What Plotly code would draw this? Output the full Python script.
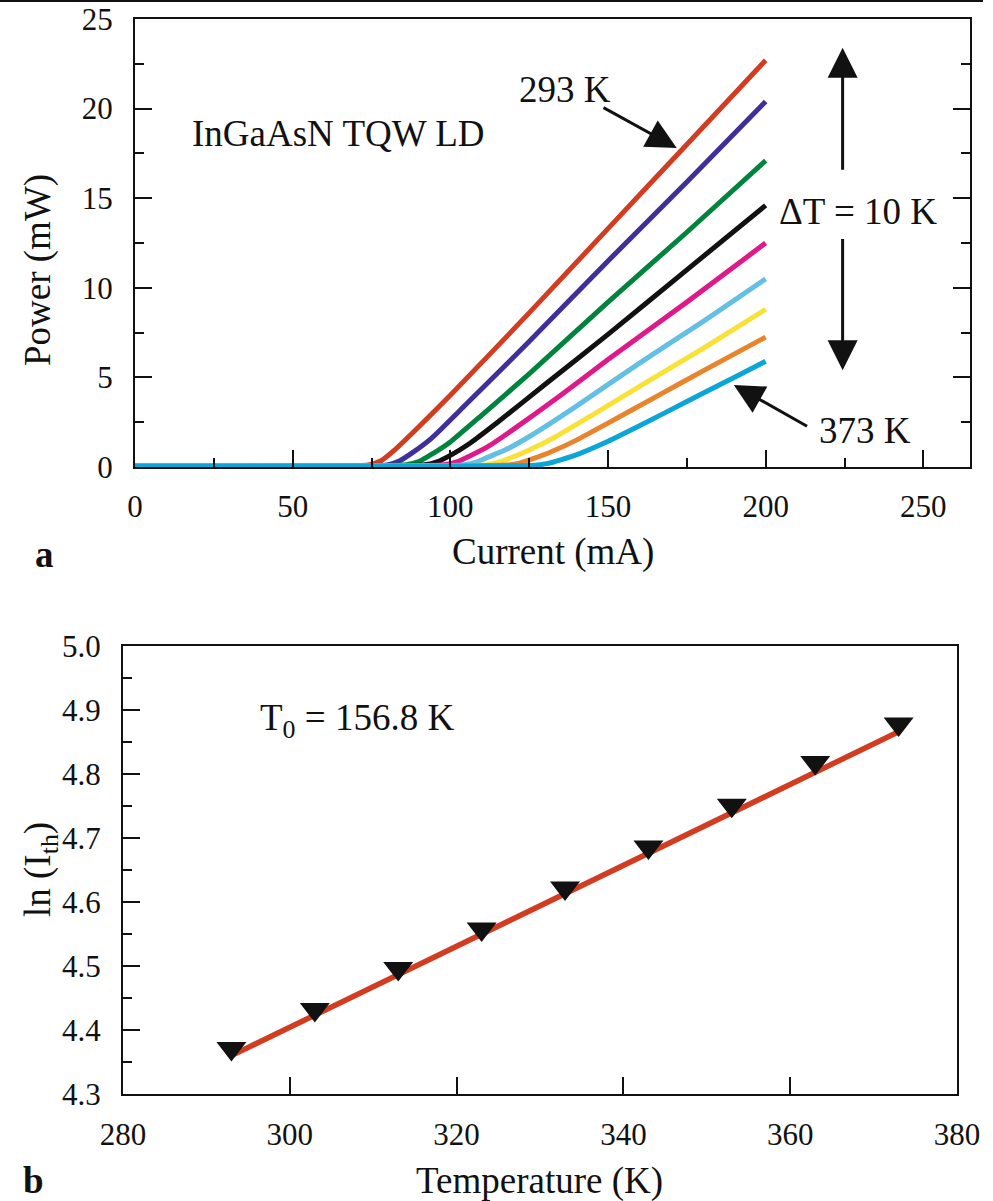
import plotly.graph_objects as go

# ---------------- data: panel a (L-I curves) ----------------
temps_a = ["293 K", "303 K", "313 K", "323 K", "333 K", "343 K", "353 K", "363 K", "373 K"]
colors_a = ["#D23C21", "#3E2F9B", "#00843D", "#111111", "#E0198A",
            "#63BFE3", "#F9E138", "#E8842C", "#0BA5D8"]

i_293 = [0, 60, 74, 78, 82, 88, 100, 125, 150, 175, 200]
p_293 = [0.05, 0.07, 0.12, 0.35, 0.9, 1.9, 4.0, 8.6, 13.3, 18.0, 22.7]
i_303 = [0, 60, 80, 84, 88, 94, 105, 125, 150, 175, 200]
p_303 = [0.05, 0.06, 0.12, 0.35, 0.8, 1.6, 3.5, 7.0, 11.5, 15.9, 20.4]
i_313 = [0, 70, 86, 90, 94, 100, 110, 125, 150, 175, 200]
p_313 = [0.05, 0.06, 0.12, 0.3, 0.7, 1.4, 2.9, 5.2, 9.2, 13.1, 17.1]
i_323 = [0, 80, 92, 96, 100, 106, 115, 130, 150, 175, 200]
p_323 = [0.05, 0.06, 0.12, 0.3, 0.65, 1.3, 2.5, 4.6, 7.4, 11.0, 14.6]
i_333 = [0, 85, 98, 102, 106, 112, 120, 135, 150, 175, 200]
p_333 = [0.05, 0.06, 0.12, 0.28, 0.6, 1.15, 2.1, 4.0, 6.0, 9.2, 12.5]
i_343 = [0, 90, 104, 108, 112, 118, 126, 140, 160, 180, 200]
p_343 = [0.05, 0.06, 0.11, 0.26, 0.55, 1.0, 1.8, 3.4, 5.8, 8.1, 10.5]
i_353 = [0, 95, 111, 115, 119, 125, 133, 145, 160, 180, 200]
p_353 = [0.05, 0.06, 0.11, 0.25, 0.5, 0.95, 1.65, 2.9, 4.5, 6.6, 8.8]
i_363 = [0, 100, 118, 122, 126, 132, 140, 150, 165, 180, 200]
p_363 = [0.05, 0.06, 0.11, 0.22, 0.45, 0.85, 1.5, 2.45, 3.9, 5.35, 7.25]
i_373 = [0, 110, 127, 131, 135, 141, 149, 160, 175, 190, 200]
p_373 = [0.04, 0.05, 0.1, 0.2, 0.4, 0.75, 1.35, 2.3, 3.65, 5.0, 5.9]

currents_a = [i_293, i_303, i_313, i_323, i_333, i_343, i_353, i_363, i_373]
powers_a = [p_293, p_303, p_313, p_323, p_333, p_343, p_353, p_363, p_373]

# ---------------- data: panel b (ln Ith vs T) ----------------
temps_b = [293, 303, 313, 323, 333, 343, 353, 363, 373]
ln_ith = [4.371, 4.432, 4.496, 4.558, 4.622, 4.686, 4.751, 4.818, 4.878]
fit_t = [293, 373]
fit_ln = [4.360, 4.866]

W, H = 993, 1201
FONT = "Liberation Serif"
INK = "#111111"


def px(x):
    return x / W


def py(y):
    return 1 - y / H


fig = go.Figure()

for t, c, xs, ys in zip(temps_a, colors_a, currents_a, powers_a):
    fig.add_trace(go.Scatter(x=xs, y=ys, mode="lines", name=t,
                             line=dict(color=c, width=5, shape="spline", smoothing=0.5),
                             xaxis="x", yaxis="y", showlegend=False))

fig.add_trace(go.Scatter(x=fit_t, y=fit_ln, mode="lines", name="fit",
                         line=dict(color="#D23C21", width=5.5),
                         xaxis="x2", yaxis="y2", showlegend=False))
fig.add_trace(go.Scatter(x=temps_b, y=ln_ith, mode="markers", name="ln(Ith)",
                         marker=dict(symbol="triangle-down", size=26, color=INK,
                                     line=dict(width=0)),
                         xaxis="x2", yaxis="y2", showlegend=False))

axis_common = dict(showgrid=False, zeroline=False, showline=True, linecolor=INK,
                   linewidth=2, ticks="inside", tickcolor=INK, tickwidth=2,
                   automargin=False,
                   tickfont=dict(family=FONT, size=31, color=INK))

fig.update_layout(
    width=W, height=H,
    margin=dict(l=0, r=0, t=0, b=0, pad=0, autoexpand=False),
    showlegend=False,
    paper_bgcolor="white", plot_bgcolor="white",
    font=dict(family=FONT, color=INK),
    xaxis=dict(axis_common, domain=[px(135), px(970)], range=[0, 264.8],
               dtick=50, tick0=0, ticklen=17, mirror=True, anchor="y",
               ticklabelstandoff=11,
               minor=dict(dtick=25, tick0=0, ticks="inside", ticklen=9,
                          tickwidth=2, tickcolor=INK)),
    yaxis=dict(axis_common, domain=[py(467), py(19)], range=[0, 25],
               dtick=5, tick0=0, ticklen=17, mirror="ticks", anchor="x",
               ticklabelstandoff=14,
               minor=dict(dtick=2.5, tick0=0, ticks="inside", ticklen=9,
                          tickwidth=2, tickcolor=INK)),
    xaxis2=dict(axis_common, domain=[px(123), px(957)], range=[280, 380],
                dtick=20, tick0=280, ticklen=17, mirror=True, anchor="y2",
                ticklabelstandoff=12),
    yaxis2=dict(axis_common, domain=[py(1094), py(646)], range=[4.3, 5.0],
                dtick=0.1, tick0=4.3, ticklen=17, mirror=True, anchor="x2",
                tickformat=".1f", ticklabelstandoff=14,
                minor=dict(dtick=0.05, tick0=4.3, ticks="inside", ticklen=9,
                           tickwidth=2, tickcolor=INK)),
)

ann = []


def text_paper(txt, x, y, size=37, xanchor="center", yanchor="middle", angle=0):
    ann.append(dict(text=txt, x=px(x), y=py(y), xref="paper", yref="paper",
                    xanchor=xanchor, yanchor=yanchor, showarrow=False, textangle=angle,
                    font=dict(family=FONT, size=size, color=INK)))


# axis titles and panel labels
text_paper("Current (mA)", 553, 552)
text_paper("Power (mW)", 38, 270, angle=-90)
text_paper("<b>a</b>", 44, 554)
text_paper("Temperature (K)", 539, 1181)
text_paper("ln (I<sub>th</sub>)", 40, 870, angle=-90)
text_paper("<b>b</b>", 33, 1180)

# in-plot texts
text_paper("InGaAsN TQW LD", 190, 133, xanchor="left")
text_paper("293 K", 613, 90, xanchor="right")
text_paper("373 K", 913, 430, xanchor="right")
text_paper("\u0394T = 10 K", 939, 212, xanchor="right")
text_paper("T<sub>0</sub> = 156.8 K", 258, 720, xanchor="left")

# arrows (tip at x,y; tail at ax,ay) in panel a data coordinates
arrows = [
    (171.8, 17.8, 148.1, 20.1),
    (189.9, 4.58, 213.6, 2.23),
    (224.4, 23.4, 224.4, 16.5),
    (224.4, 5.4, 224.4, 12.8),
]
for x, y, ax, ay in arrows:
    ann.append(dict(x=x, y=y, ax=ax, ay=ay, xref="x", yref="y", axref="x", ayref="y",
                    text="", showarrow=True, arrowhead=2, arrowsize=2,
                    arrowwidth=3, arrowcolor=INK, standoff=0, startstandoff=0))

fig.update_layout(annotations=ann)

# thin rule across the top of the page
fig.add_shape(type="line", xref="paper", yref="paper", x0=0, x1=px(983),
              y0=py(1), y1=py(1), line=dict(color=INK, width=2))

fig.write_html("out.html")
